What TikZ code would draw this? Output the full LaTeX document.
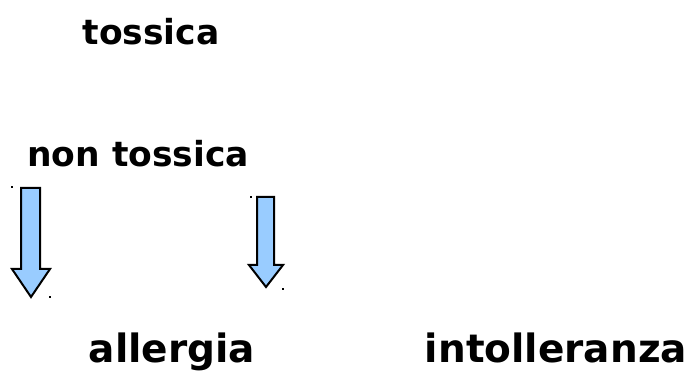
\documentclass[tikz,border=0pt]{standalone}
\usepackage{fontspec}
\setmainfont{DejaVu Sans}
\definecolor{arrowblue}{HTML}{99CCFF}
\begin{document}
\begin{tikzpicture}[x=1pt,y=1pt,
  lbl/.style={anchor=base, inner sep=0pt, font=\fontsize{34.5}{38}\selectfont\bfseries},
  biglbl/.style={lbl, font=\fontsize{39}{42}\selectfont\bfseries},
  darrow/.style={draw=black, line width=2pt, fill=arrowblue, line join=miter}]
\useasboundingbox (0,0) rectangle (691,374);
\node[lbl] (tox) at (151,329) {tossica};
\node[lbl] (ntox) at (138,207) {non tossica};
\node[biglbl] (all) at (172,11) {allergia};
\node[biglbl] (int) at (556,11) {intolleranza};
\draw[darrow] (21,186) -- (40,186) -- (40,105) -- (50,105) -- (31,77) -- (12,105) -- (21,105) -- cycle;
\draw[darrow] (257,177) -- (274,177) -- (274,109) -- (283,109) -- (266,87) -- (249,109) -- (257,109) -- cycle;
\fill (11,186) rectangle (13,188);
\fill (49,76) rectangle (51,78);
\fill (250,176) rectangle (252,178);
\fill (282,84) rectangle (284,86);
\end{tikzpicture}
\end{document}
